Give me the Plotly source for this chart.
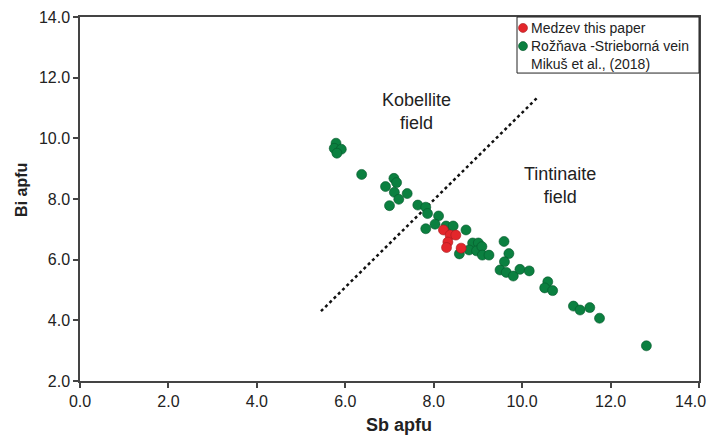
import plotly.graph_objects as go

# Medzev (this paper)
medzev_sb = [8.22, 8.37, 8.50, 8.32, 8.29, 8.62]
medzev_bi = [6.98, 6.81, 6.81, 6.58, 6.40, 6.38]

# Rožňava - Strieborná vein (Mikuš et al., 2018)
roz_sb = [5.79, 5.75, 5.91, 5.81, 6.37, 7.10, 7.16, 6.91, 7.11, 7.40, 7.21, 7.00,
          7.64, 7.82, 7.86, 8.11, 8.03, 7.82, 8.28, 8.44, 8.73, 8.58, 8.88, 9.01,
          8.80, 8.97, 9.09, 9.10, 9.25, 9.59, 9.70, 9.60, 9.50, 9.64, 9.80, 9.95,
          10.16, 10.58, 10.51, 10.69, 11.16, 11.31, 11.53, 11.75, 12.81]
roz_bi = [9.84, 9.67, 9.64, 9.51, 8.81, 8.68, 8.54, 8.41, 8.22, 8.18, 7.99, 7.78,
          7.80, 7.73, 7.52, 7.44, 7.17, 7.02, 7.11, 7.11, 6.98, 6.19, 6.55, 6.55,
          6.32, 6.29, 6.43, 6.15, 6.15, 6.60, 6.20, 5.93, 5.66, 5.58, 5.46, 5.68,
          5.63, 5.27, 5.07, 4.98, 4.47, 4.34, 4.42, 4.07, 3.16]

# Kobellite / tintinaite boundary
boundary_sb = [5.45, 10.35]
boundary_bi = [4.30, 11.35]

x_tick_vals = [0, 2, 4, 6, 8, 10, 12, 14]
x_tick_text = ["0.0", "2.0", "4.0", "6.0", "8.0", "10.0", "12.0", "14.0"]
y_tick_vals = [2, 4, 6, 8, 10, 12, 14]
y_tick_text = ["2.0", "4.0", "6.0", "8.0", "10.0", "12.0", "14.0"]

legend_labels = ["Medzev this paper", "Rožňava -Strieborná vein", "Mikuš et al., (2018)"]

GREEN = "#0b8040"
RED = "#e3262b"
FONT = "Liberation Sans, Arial, sans-serif"
TXT = "#222222"
TICK_SIZE = 16

fig = go.Figure()
fig.add_trace(go.Scatter(
    x=boundary_sb, y=boundary_bi, mode="lines",
    line=dict(color="#111111", width=2.5, dash="dot"),
    showlegend=False, hoverinfo="skip"))
fig.add_trace(go.Scatter(
    x=roz_sb, y=roz_bi, mode="markers", name=legend_labels[1],
    marker=dict(size=10, color=GREEN, line=dict(color="#07582b", width=0.6)),
    showlegend=False))
fig.add_trace(go.Scatter(
    x=medzev_sb, y=medzev_bi, mode="markers", name=legend_labels[0],
    marker=dict(size=10, color=RED, line=dict(color="#a51a1e", width=0.6)),
    showlegend=False))

axis_common = dict(
    showgrid=False, zeroline=False, showline=True, mirror=True,
    linecolor="#444444", linewidth=1.5, ticks="outside", ticklen=5,
    tickcolor="#444444", tickwidth=1.5, automargin=False,
    tickfont=dict(family=FONT, size=TICK_SIZE, color=TXT))

# the last x label sits at the figure edge; it is written as an annotation below
fig.update_xaxes(range=[0, 14], tickvals=x_tick_vals,
                 ticktext=x_tick_text[:-1] + [""], **axis_common)
fig.update_yaxes(range=[2, 14], tickvals=y_tick_vals, ticktext=y_tick_text, **axis_common)
fig.add_annotation(xref="x", yref="paper", x=x_tick_vals[-1], y=-0.056, xanchor="right",
                   yanchor="middle", xshift=9, text=x_tick_text[-1], showarrow=False,
                   font=dict(family=FONT, size=TICK_SIZE, color=TXT))

# axis titles
fig.add_annotation(xref="paper", yref="paper", x=0.515, y=-0.121, xanchor="center",
                   yanchor="middle", text="<b>Sb apfu</b>",
                   showarrow=False, font=dict(family=FONT, size=18, color=TXT))
fig.add_annotation(xref="paper", yref="paper", x=-0.0937, y=0.525, xanchor="center",
                   yanchor="middle", text="<b>Bi apfu</b>",
                   textangle=-90, showarrow=False, font=dict(family=FONT, size=16, color=TXT))

# field labels
fig.add_annotation(x=7.62, y=10.90, text="Kobellite<br>field", showarrow=False,
                   font=dict(family=FONT, size=18, color=TXT))
fig.add_annotation(x=10.86, y=8.46, text="Tintinaite<br>field", showarrow=False,
                   font=dict(family=FONT, size=18, color=TXT))

# legend box with symbol circles
fig.add_shape(type="rect", xref="paper", yref="paper", x0=0.706, x1=1.0, y0=0.846, y1=1.0,
              line=dict(color=TXT, width=1), fillcolor="white", layer="above")
for col, edge, yc in [(RED, "#a51a1e", 0.970), (GREEN, "#07582b", 0.920)]:
    fig.add_shape(type="circle", xref="paper", yref="paper",
                  x0=0.7084, x1=0.7229, y0=yc - 0.0124, y1=yc + 0.0124,
                  fillcolor=col, line=dict(color=edge, width=0.6), layer="above")
for txt, ypos in zip(legend_labels, [0.970, 0.920, 0.871]):
    fig.add_annotation(xref="paper", yref="paper", x=0.7254, y=ypos, xanchor="left",
                       yanchor="middle", text=txt, showarrow=False,
                       font=dict(family=FONT, size=14, color=TXT))

fig.update_layout(
    width=710, height=437,
    margin=dict(l=80, r=11, t=17, b=56),
    paper_bgcolor="white", plot_bgcolor="white",
    showlegend=False,
    font=dict(family=FONT))

fig.write_html("out.html", config={"displayModeBar": False},
               post_script="document.body.style.margin='0';document.body.style.overflow='hidden';")
